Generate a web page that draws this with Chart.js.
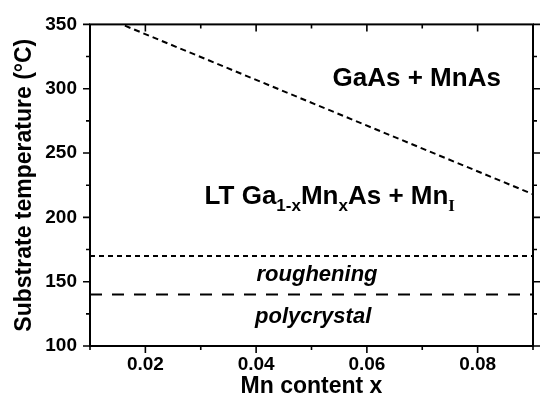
<!DOCTYPE html>
<html>
<head>
<meta charset="utf-8">
<script src="https://cdn.jsdelivr.net/npm/chart.js@4"></script>
<style>
  html, body { margin: 0; padding: 0; background: #fff; }
  #wrap { width: 543px; height: 403px; }
</style>
</head>
<body>
<div id="wrap"><canvas id="chart"></canvas></div>
<script>
// DATA
const xRange = [0.01, 0.09]
const yRange = [100, 350]

// phase boundary GaAs+MnAs / LT GaMnAs
const boundaryX = [0.0163, 0.09]
const boundaryY = [349, 218]

// roughening onset and polycrystal onset
const roughX = [0.01, 0.09]
const roughY = [170, 170]
const polyX = [0.01, 0.09]
const polyY = [140, 140]

const xLabelTicks = [0.02, 0.04, 0.06, 0.08]
const yLabelTicks = [100, 150, 200, 250, 300, 350]

// region labels: [x, y]
const gaasLabelPos = [0.069, 309]
const ltLabelPos = [0.0533, 217]
const roughLabelPos = [0.0510, 157]
const polyLabelPos = [0.0503, 124]


// UTILS
const pts = (xs, ys) => xs.map((x, i) => ({x, y: ys[i]}))
const near = (v, list) => list.some(t => Math.abs(t - v) < 1e-6)

// PLUGIN: frame, ticks, region labels
const framePlugin = {
    id: 'frame',
    afterDraw(chart) {
        const {ctx, chartArea: a, scales: {x, y}} = chart
        ctx.save()
        ctx.strokeStyle = '#000'
        ctx.lineWidth = 2
        ctx.strokeRect(a.left, a.top, a.right - a.left, a.bottom - a.top)

        ctx.lineWidth = 1.6
        ctx.beginPath()
        for (let i = 1; i <= 9; i++) {
            const v = i / 100
            const px = x.getPixelForValue(v)
            const len = near(v, xLabelTicks) ? 7 : 4
            ctx.moveTo(px, a.bottom); ctx.lineTo(px, a.bottom + len)
            ctx.moveTo(px, a.top); ctx.lineTo(px, a.top + len)
        }
        for (let v = 100; v <= 350; v += 25) {
            const py = y.getPixelForValue(v)
            const len = near(v, yLabelTicks) ? 7 : 4
            ctx.moveTo(a.left, py); ctx.lineTo(a.left - len, py)
            ctx.moveTo(a.right, py); ctx.lineTo(a.right + len, py)
        }
        ctx.stroke()

        ctx.fillStyle = '#000'
        ctx.textBaseline = 'alphabetic'
        const big = 'bold 26px "Liberation Sans", Arial, sans-serif'
        const sub = 'bold 17px "Liberation Sans", Arial, sans-serif'

        // GaAs + MnAs
        ctx.font = big
        ctx.textAlign = 'center'
        ctx.fillText('GaAs + MnAs', x.getPixelForValue(gaasLabelPos[0]), y.getPixelForValue(gaasLabelPos[1]) + 9)

        // LT Ga1-xMnxAs + MnI  (runs with subscripts)
        const runs = [
            ['LT Ga', big, 0], ['1-x', sub, 7], ['Mn', big, 0], ['x', sub, 7],
            ['As + Mn', big, 0], ['I', 'bold 17px "Liberation Serif", "Times New Roman", serif', 7]
        ]
        let total = 0
        runs.forEach(r => { ctx.font = r[1]; total += ctx.measureText(r[0]).width })
        let cx = x.getPixelForValue(ltLabelPos[0]) - total / 2
        const by = y.getPixelForValue(ltLabelPos[1]) + 9
        ctx.textAlign = 'left'
        runs.forEach(r => {
            ctx.font = r[1]
            ctx.fillText(r[0], cx, by + r[2])
            cx += ctx.measureText(r[0]).width
        })

        ctx.font = 'italic bold 22px "Liberation Sans", Arial, sans-serif'
        ctx.textAlign = 'center'
        ctx.fillText('roughening', x.getPixelForValue(roughLabelPos[0]), y.getPixelForValue(roughLabelPos[1]) + 8)
        ctx.fillText('polycrystal', x.getPixelForValue(polyLabelPos[0]), y.getPixelForValue(polyLabelPos[1]) + 8)
        ctx.restore()
    }
}


// MAIN
const tickFont = {family: '"Liberation Sans", Arial, sans-serif', size: 19, weight: 'bold'}
const titleFont = {family: '"Liberation Sans", Arial, sans-serif', size: 23, weight: 'bold'}

const lineSet = (data, dash) => ({
    data, showLine: true, borderColor: '#000', borderWidth: 2,
    borderDash: dash, pointRadius: 0, fill: false
})

new Chart(document.getElementById('chart').getContext('2d'), {
    type: 'scatter',
    data: {
        datasets: [
            lineSet(pts(boundaryX, boundaryY), [6, 4]),
            lineSet(pts(roughX, roughY), [5, 4]),
            lineSet(pts(polyX, polyY), [12, 10]),
        ]
    },
    options: {
        responsive: true,
        maintainAspectRatio: false,
        animation: false,
        layout: {padding: {left: 0, top: 21, right: 10, bottom: 0}},
        plugins: {legend: {display: false}, tooltip: {enabled: false}},
        scales: {
            x: {
                type: 'linear', min: xRange[0], max: xRange[1],
                afterFit: s => { s.height = 57 },
                afterBuildTicks: s => { s.ticks = xLabelTicks.map(v => ({value: v})) },
                grid: {display: false, drawTicks: false, tickLength: 0},
                border: {display: false},
                ticks: {
                    color: '#000', font: tickFont, padding: 7, maxRotation: 0,
                    callback: v => v.toFixed(2)
                },
                title: {display: true, text: 'Mn content x', color: '#000', font: titleFont, padding: {top: 0, bottom: 3}}
            },
            y: {
                type: 'linear', min: yRange[0], max: yRange[1],
                afterFit: s => { s.width = 90 },
                afterBuildTicks: s => { s.ticks = yLabelTicks.map(v => ({value: v})) },
                grid: {display: false, drawTicks: false, tickLength: 0},
                border: {display: false},
                ticks: {color: '#000', font: tickFont, padding: 13},
                title: {display: true, text: 'Substrate temperature (\u00B0C)', color: '#000', font: titleFont, padding: {top: 11, bottom: 0}}
            }
        }
    },
    plugins: [framePlugin]
})
</script>
</body>
</html>
